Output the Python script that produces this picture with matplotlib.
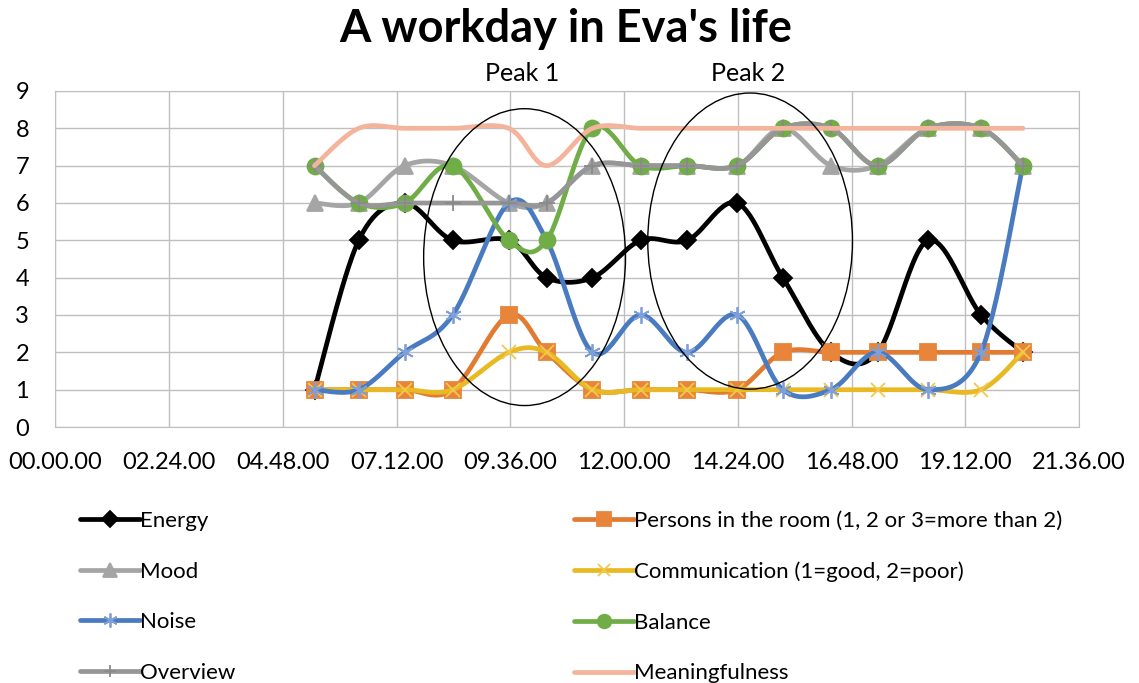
import numpy as np
import matplotlib
matplotlib.use("Agg")
import matplotlib.pyplot as plt
from matplotlib.lines import Line2D
from matplotlib.patches import Ellipse
from matplotlib.ticker import FixedLocator, FuncFormatter

plt.rcParams["font.family"] = ["Lato", "DejaVu Sans"]

# sample times (hh:mm) and the eight ratings
times = ["05:28", "06:24", "07:22", "08:23", "09:34", "10:22", "11:20", "12:21",
         "13:20", "14:23", "15:21", "16:22", "17:21", "18:25", "19:32", "20:25"]
energy = [1, 5, 6, 5, 5, 4, 4, 5, 5, 6, 4, 2, 2, 5, 3, 2]
persons = [1, 1, 1, 1, 3, 2, 1, 1, 1, 1, 2, 2, 2, 2, 2, 2]
mood = [6, 6, 7, 7, 6, 6, 7, 7, 7, 7, 8, 7, 7, 8, 8, 7]
communication = [1, 1, 1, 1, 2, 2, 1, 1, 1, 1, 1, 1, 1, 1, 1, 2]
noise = [1, 1, 2, 3, 6, 5, 2, 3, 2, 3, 1, 1, 2, 1, 2, 7]
balance = [7, 6, 6, 7, 5, 5, 8, 7, 7, 7, 8, 8, 7, 8, 8, 7]
overview = [7, 6, 6, 6, 6, 6, 7, 7, 7, 7, 8, 8, 7, 8, 8, 7]
meaningfulness = [7, 8, 8, 8, 8, 7, 8, 8, 8, 8, 8, 8, 8, 8, 8, 8]

# annotation ellipses: (center hour, center value, width h, height)
peak_labels = ["Peak 1", "Peak 2"]
peak_ellipses = [(9.9, 4.55, 4.26, 7.95), (14.66, 4.98, 4.32, 7.93)]

hours = np.array([int(t[:2]) + int(t[3:]) / 60 for t in times])

series = [
    ("Energy", energy, "black", "D", 9.5, "black"),
    ("Persons in the room (1, 2 or 3=more than 2)", persons, "#E07B31", "s", 11.5, "#E8853A"),
    ("Mood", mood, "#A5A5A5", "^", 11.5, "#A5A5A5"),
    ("Communication (1=good, 2=poor)", communication, "#E8B923", "x", 10, "#F2C94C"),
    ("Noise", noise, "#4A7BC0", (6, 2, 0), 12, "#7F9FD8"),
    ("Balance", balance, "#70AD47", "o", 11.5, "#70AD47"),
    ("Overview", overview, "#969696", "+", 11, "#8A8A8A"),
    ("Meaningfulness", meaningfulness, "#F4B49C", None, 0, "#F4B49C"),
]


def smooth(x, y, n=30):
    # Excel-like smoothed line: Catmull-Rom segments as cubic Bezier
    x = np.asarray(x, float)
    y = np.asarray(y, float)
    xs, ys = [], []
    t = np.linspace(0, 1, n)
    for i in range(len(x) - 1):
        i0, i3 = max(i - 1, 0), min(i + 2, len(x) - 1)
        p0 = np.array([x[i], y[i]])
        p3 = np.array([x[i + 1], y[i + 1]])
        p1 = p0 + (np.array([x[i + 1], y[i + 1]]) - np.array([x[i0], y[i0]])) / 6
        p2 = p3 - (np.array([x[i3], y[i3]]) - np.array([x[i], y[i]])) / 6
        b = ((1 - t) ** 3)[:, None] * p0 + (3 * (1 - t) ** 2 * t)[:, None] * p1 \
            + (3 * (1 - t) * t ** 2)[:, None] * p2 + (t ** 3)[:, None] * p3
        xs.append(b[:, 0])
        ys.append(b[:, 1])
    return np.concatenate(xs), np.concatenate(ys)


fig = plt.figure(figsize=(11.39, 6.83), dpi=100)
ax = fig.add_axes([0.0487, 0.3748, 0.8986, 0.492])

handles = {}
for label, vals, color, marker, msize, mcolor in series:
    sx, sy = smooth(hours, vals)
    ax.plot(sx, sy, color=color, lw=3.4, solid_capstyle="round", zorder=3)
    if marker is not None:
        ax.plot(hours, vals, ls="none", marker=marker, ms=msize, color=mcolor,
                mec=mcolor, mew=1.3, zorder=3)
    handles[label] = Line2D([], [], color=color, lw=3.4, marker=marker, ms=msize * 0.85,
                            mfc=mcolor, mec=mcolor, mew=1.3, solid_capstyle="round")

for (cx, cy, w, h), lab in zip(peak_ellipses, peak_labels):
    ax.add_patch(Ellipse((cx, cy), w, h, fill=False, ec="black", lw=1.0, zorder=4))
    ax.text(cx - 0.05, 9.46, lab, ha="center", va="center", fontsize=18, clip_on=False)

ax.set_xlim(0, 21.6)
ax.set_ylim(0, 9)
ax.xaxis.set_major_locator(FixedLocator(np.arange(0, 21.61, 2.4)))
ax.xaxis.set_major_formatter(FuncFormatter(
    lambda v, p: "%02d.%02d.00" % (int(round(v * 60)) // 60, int(round(v * 60)) % 60)))
ax.set_yticks(range(10))
ax.grid(True, color="#BFBFBF", lw=1.0, zorder=0)
ax.set_axisbelow(True)
for s in ax.spines.values():
    s.set_color("#BFBFBF")
ax.tick_params(length=0, labelsize=17)
ax.tick_params(axis="x", pad=18)
ax.tick_params(axis="y", pad=19)

fig.text(0.497, 0.958, "A workday in Eva's life", ha="center", va="center",
         fontsize=32.5, fontweight="bold")

col1 = ["Energy", "Mood", "Noise", "Overview"]
col2 = ["Persons in the room (1, 2 or 3=more than 2)", "Communication (1=good, 2=poor)",
        "Balance", "Meaningfulness"]
leg_kw = dict(loc="upper left", frameon=False, fontsize=16, handlelength=2.7,
              handletextpad=0.0, labelspacing=1.38, borderpad=0, borderaxespad=0,
              numpoints=1)
fig.legend([handles[k] for k in col1], col1,
           bbox_to_anchor=(0.070, 0.252), **leg_kw)
fig.legend([handles[k] for k in col2], col2,
           bbox_to_anchor=(0.504, 0.252), **leg_kw)

fig.savefig("out.png", dpi=100)
